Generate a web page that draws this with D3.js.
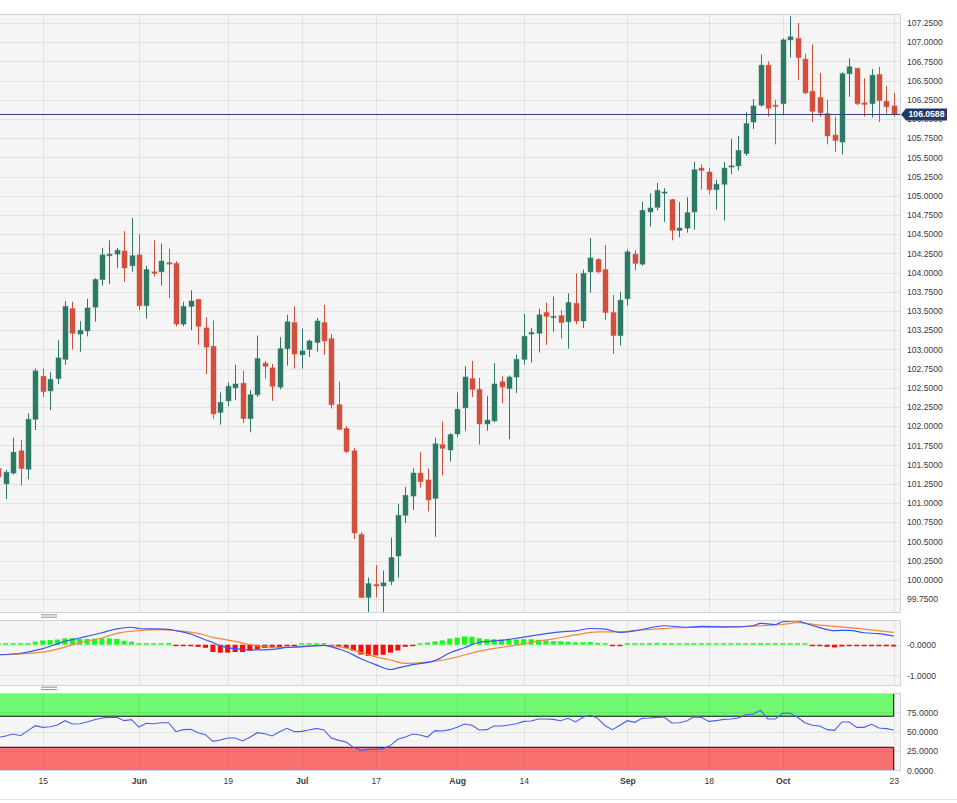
<!DOCTYPE html>
<html>
<head>
<meta charset="utf-8">
<title>Daily candles with MACD and RSI</title>
<script src="https://d3js.org/d3.v7.min.js"></script>
<style>
  body { margin: 0; background: #fff; }
  svg { display: block; font-family: "Liberation Sans", Arial, sans-serif; }
  .axis path, .axis line { display: none; }
  .axis text { fill: #3a3a3a; font-size: 8.6px; }
  .grid path { display: none; }
  .grid line { stroke: #000; stroke-opacity: 0.07; shape-rendering: crispEdges; }
  .panel-bg { fill: #f5f5f5; }
  .panel-frame { fill: none; stroke: #cdd3e5; shape-rendering: crispEdges; }
</style>
</head>
<body>
<svg width="957" height="803"></svg>
<script>
// ---- data ----
const dates = [
  "2023-05-05",
  "2023-05-08","2023-05-09","2023-05-10","2023-05-11","2023-05-12",
  "2023-05-15","2023-05-16","2023-05-17","2023-05-18","2023-05-19",
  "2023-05-22","2023-05-23","2023-05-24","2023-05-25","2023-05-26",
  "2023-05-29","2023-05-30","2023-05-31","2023-06-01","2023-06-02",
  "2023-06-05","2023-06-06","2023-06-07","2023-06-08","2023-06-09",
  "2023-06-12","2023-06-13","2023-06-14","2023-06-15","2023-06-16",
  "2023-06-19","2023-06-20","2023-06-21","2023-06-22","2023-06-23",
  "2023-06-26","2023-06-27","2023-06-28","2023-06-29","2023-06-30",
  "2023-07-03","2023-07-04","2023-07-05","2023-07-06","2023-07-07",
  "2023-07-10","2023-07-11","2023-07-12","2023-07-13","2023-07-14",
  "2023-07-17","2023-07-18","2023-07-19","2023-07-20","2023-07-21",
  "2023-07-24","2023-07-25","2023-07-26","2023-07-27","2023-07-28",
  "2023-07-31","2023-08-01","2023-08-02","2023-08-03","2023-08-04",
  "2023-08-07","2023-08-08","2023-08-09","2023-08-10","2023-08-11",
  "2023-08-14","2023-08-15","2023-08-16","2023-08-17","2023-08-18",
  "2023-08-21","2023-08-22","2023-08-23","2023-08-24","2023-08-25",
  "2023-08-28","2023-08-29","2023-08-30","2023-08-31","2023-09-01",
  "2023-09-04","2023-09-05","2023-09-06","2023-09-07","2023-09-08",
  "2023-09-11","2023-09-12","2023-09-13","2023-09-14","2023-09-15",
  "2023-09-18","2023-09-19","2023-09-20","2023-09-21","2023-09-22",
  "2023-09-25","2023-09-26","2023-09-27","2023-09-28","2023-09-29",
  "2023-10-02","2023-10-03","2023-10-04","2023-10-05","2023-10-06",
  "2023-10-09","2023-10-10","2023-10-11","2023-10-12","2023-10-13",
  "2023-10-16","2023-10-17","2023-10-18","2023-10-19","2023-10-20",
  "2023-10-23"
];

const open = [
  101.45,
  101.25,101.39,101.68,101.44,102.09,
  102.65,102.46,102.62,102.87,103.53,
  103.20,103.24,103.55,103.91,104.22,
  104.24,104.28,104.09,104.23,103.57,
  104.01,104.01,104.13,104.12,103.33,
  103.56,103.65,103.28,103.04,102.18,
  102.33,102.50,102.56,102.10,102.41,
  102.82,102.76,102.51,103.01,103.35,
  102.93,103.00,103.09,103.35,103.14,
  102.28,101.97,101.68,100.59,99.77,
  99.94,99.92,99.98,100.31,100.84,
  101.09,101.39,101.30,101.06,101.76,
  101.69,101.90,102.24,102.62,102.48,
  102.03,102.07,102.58,102.49,102.64,
  102.87,103.20,103.21,103.48,103.42,
  103.44,103.36,103.60,103.37,104.01,
  104.17,104.04,103.48,103.18,103.66,
  104.24,104.11,104.79,104.85,105.04,
  104.95,104.55,104.58,104.79,105.36,
  105.31,105.08,105.15,105.38,105.39,
  105.55,105.96,106.18,106.70,106.18,
  106.20,107.03,107.05,106.78,106.36,
  106.28,106.07,105.79,105.70,106.59,
  106.66,106.21,106.20,106.58,106.23,
  106.17
];
const high = [
  101.52,
  101.43,101.85,101.82,102.17,102.75,
  102.75,102.70,103.12,103.63,103.62,
  103.37,103.66,103.93,104.32,104.42,
  104.32,104.54,104.71,104.50,104.09,
  104.42,104.38,104.31,104.15,103.62,
  103.77,103.66,103.42,103.38,102.44,
  102.57,102.80,102.72,102.47,103.18,
  102.85,102.81,103.16,103.45,103.56,
  103.27,103.13,103.41,103.58,103.20,
  102.58,102.00,101.72,100.62,100.03,
  100.19,100.12,100.55,100.99,101.21,
  101.45,101.66,101.45,101.85,102.06,
  101.91,102.44,102.78,102.85,102.63,
  102.39,102.82,102.65,102.66,102.93,
  103.46,103.28,103.53,103.61,103.69,
  103.51,103.73,103.99,104.04,104.45,
  104.19,104.36,103.71,103.75,104.30,
  104.29,104.92,105.03,105.17,105.10,
  104.96,104.92,104.98,105.44,105.41,
  105.36,105.21,105.44,105.74,105.78,
  106.09,106.26,106.84,106.75,106.25,
  107.05,107.34,107.25,106.85,106.97,
  106.60,106.25,106.03,106.61,106.79,
  106.67,106.53,106.65,106.68,106.43,
  106.34
];
const low = [
  101.30,
  101.05,101.37,101.23,101.31,101.95,
  102.38,102.21,102.55,102.80,103.00,
  102.97,103.17,103.36,103.83,103.85,
  104.06,103.88,104.01,103.51,103.40,
  103.95,103.83,103.67,103.30,103.30,
  103.25,103.06,102.68,102.10,102.02,
  102.26,102.34,102.04,101.92,102.38,
  102.62,102.33,102.48,102.79,102.75,
  102.75,102.90,102.97,102.93,102.23,
  101.95,101.65,100.53,99.76,99.58,
  99.77,99.58,99.93,100.03,100.74,
  100.91,101.20,100.89,100.56,101.36,
  101.54,101.86,101.94,102.38,101.76,
  101.94,102.05,102.30,101.83,102.43,
  102.80,102.83,102.96,103.06,103.23,
  103.14,103.01,103.33,103.28,103.74,
  103.99,103.38,102.94,103.05,103.57,
  104.03,104.09,104.60,104.81,104.66,
  104.42,104.46,104.52,104.56,105.08,
  105.02,104.82,104.68,105.28,105.33,
  105.52,105.87,106.16,106.03,105.67,
  106.05,106.80,106.51,106.32,105.96,
  106.03,105.67,105.57,105.54,106.29,
  106.18,106.03,106.02,105.96,106.07,
  106.03
];
const close = [
  101.34,
  101.40,101.66,101.45,102.09,102.72,
  102.45,102.61,102.89,103.56,103.21,
  103.25,103.54,103.91,104.23,104.24,
  104.29,104.06,104.22,103.57,104.04,
  103.99,104.15,104.11,103.33,103.56,
  103.63,103.30,103.03,102.16,102.31,
  102.52,102.55,102.10,102.41,102.88,
  102.78,102.52,103.01,103.36,102.94,
  102.98,103.11,103.37,103.11,102.28,
  101.96,101.67,100.61,99.77,99.95,
  99.92,99.96,100.29,100.84,101.10,
  101.39,101.28,101.04,101.77,101.71,
  101.89,102.22,102.64,102.48,102.03,
  102.08,102.55,102.51,102.64,102.87,
  103.17,103.22,103.45,103.43,103.43,
  103.35,103.61,103.37,103.99,104.19,
  104.01,103.48,103.18,103.64,104.27,
  104.12,104.81,104.84,105.07,105.05,
  104.55,104.58,104.78,105.34,105.33,
  105.08,105.15,105.36,105.39,105.59,
  105.94,106.17,106.70,106.14,106.17,
  107.03,107.07,106.80,106.34,106.10,
  106.08,105.78,105.72,106.59,106.68,
  106.20,106.19,106.57,106.24,106.16,
  106.0588
];

// MACD histogram, one bar per day
const macdHist = [
  0.02,
  0.02,0.02,0.03,0.05,0.10,
  0.14,0.15,0.17,0.21,0.21,
  0.19,0.19,0.20,0.21,0.21,
  0.19,0.13,0.10,0.05,0.03,
  0.02,0.01,0.01,-0.03,-0.04,
  -0.05,-0.07,-0.10,-0.24,-0.26,
  -0.26,-0.24,-0.24,-0.20,-0.14,
  -0.11,-0.10,-0.08,-0.05,-0.02,
  0.02,0.03,0.04,0.03,-0.01,
  -0.06,-0.11,-0.20,-0.32,-0.37,
  -0.35,-0.33,-0.26,-0.19,-0.07,
  -0.01,0.03,0.07,0.11,0.14,
  0.20,0.23,0.27,0.26,0.21,
  0.18,0.18,0.17,0.16,0.17,
  0.18,0.18,0.16,0.14,0.12,
  0.11,0.10,0.08,0.08,0.09,
  0.06,0.02,-0.01,-0.02,0.01,
  0.01,0.04,0.05,0.06,0.05,
  0.02,0.01,0.02,0.02,0.02,
  0.01,0.01,0.01,0.01,0.01,
  0.01,0.02,0.05,0.03,0.02,
  0.04,0.05,0.04,0.01,-0.02,
  -0.04,-0.07,-0.09,-0.06,-0.05,
  -0.05,-0.05,-0.05,-0.05,-0.05,
  -0.06
];

// MACD and signal lines, read at sample days
const macdDates = [
  "2023-05-05","2023-05-10","2023-05-15","2023-05-18","2023-05-22","2023-05-25",
  "2023-05-29","2023-05-31","2023-06-01","2023-06-07","2023-06-08","2023-06-12",
  "2023-06-13","2023-06-15","2023-06-16","2023-06-20","2023-06-22","2023-06-27",
  "2023-06-29","2023-07-03","2023-07-06","2023-07-07","2023-07-11","2023-07-13",
  "2023-07-17","2023-07-19","2023-07-20","2023-07-24","2023-07-27","2023-07-31",
  "2023-08-02","2023-08-04","2023-08-09","2023-08-14","2023-08-17","2023-08-21",
  "2023-08-23","2023-08-25","2023-08-29","2023-08-31","2023-09-04","2023-09-08",
  "2023-09-13","2023-09-15","2023-09-21","2023-09-26","2023-09-27","2023-09-29",
  "2023-10-02","2023-10-04","2023-10-05","2023-10-09","2023-10-11","2023-10-13",
  "2023-10-17","2023-10-19","2023-10-23"
];
const macdValues = [
  -0.33,-0.28,-0.13,0.11,0.22,0.39,
  0.52,0.57,0.53,0.50,0.46,0.35,
  0.25,0.07,-0.04,-0.13,-0.17,-0.15,
  -0.09,-0.06,-0.02,-0.07,-0.22,-0.46,
  -0.65,-0.81,-0.76,-0.65,-0.52,-0.27,
  -0.10,0.08,0.14,0.25,0.36,0.42,
  0.45,0.53,0.51,0.40,0.45,0.62,
  0.57,0.60,0.58,0.62,0.70,0.66,
  0.75,0.78,0.70,0.56,0.46,0.47,
  0.39,0.36,0.28
];
const signalDates = [
  "2023-05-05","2023-05-15","2023-05-18","2023-05-22","2023-05-25","2023-05-29",
  "2023-06-01","2023-06-06","2023-06-08","2023-06-13","2023-06-15","2023-06-20",
  "2023-06-22","2023-06-26","2023-06-29","2023-07-03","2023-07-06","2023-07-11",
  "2023-07-14","2023-07-19","2023-07-21","2023-07-26","2023-07-31","2023-08-04",
  "2023-08-11","2023-08-15","2023-08-18","2023-08-23","2023-08-28","2023-08-31",
  "2023-09-04","2023-09-08","2023-09-15","2023-09-21","2023-09-27","2023-10-02",
  "2023-10-04","2023-10-09","2023-10-13","2023-10-23"
];
const signalValues = [
  -0.33,-0.24,-0.08,0.07,0.22,0.37,
  0.46,0.49,0.46,0.37,0.24,0.11,
  0.00,-0.06,-0.09,-0.07,-0.02,-0.11,
  -0.33,-0.50,-0.61,-0.57,-0.46,-0.21,
  -0.01,0.08,0.19,0.32,0.42,0.42,
  0.47,0.53,0.57,0.58,0.62,0.66,
  0.72,0.64,0.56,0.40
];

// RSI, one value per day
const rsi = [
  42.8,
  44.5,47.1,44.9,51.4,57.8,
  55.7,56.5,58.7,64.3,60.0,
  60.4,62.5,65.5,67.7,68.6,
  68.6,64.3,65.6,56.1,60.9,
  60.4,61.7,61.7,50.1,52.7,
  53.1,48.8,46.2,37.6,39.4,
  41.9,41.9,38.1,42.8,48.8,
  47.5,44.5,50.1,54.4,50.1,
  50.5,52.3,54.4,52.3,41.9,
  38.9,36.8,29.9,25.6,27.3,
  27.3,28.2,32.5,40.2,43.2,
  47.1,45.8,43.2,51.4,51.0,
  52.7,55.7,60.0,58.3,52.3,
  52.7,57.4,57.4,58.7,60.4,
  63.4,63.9,66.5,66.5,66.0,
  64.3,67.3,62.6,68.6,71.2,
  67.3,57.8,52.7,58.3,64.3,
  62.2,67.3,67.7,68.6,69.0,
  61.3,61.7,63.9,69.0,68.6,
  63.4,64.3,66.0,66.5,67.7,
  72.0,72.9,77.6,66.5,66.5,
  73.8,73.8,68.6,61.7,58.3,
  57.4,52.7,51.8,62.6,62.6,
  55.7,55.7,59.6,54.8,54.0,
  52.3
];

// axis ticks
const xTickDates = ["2023-05-15","2023-06-01","2023-06-19","2023-07-03","2023-07-17",
  "2023-08-01","2023-08-14","2023-09-01","2023-09-18","2023-10-02","2023-10-23"];
const xTickLabels = ["15","Jun","19","Jul","17","Aug","14","Sep","18","Oct","23"];
const priceTicks = d3.range(0, 31).map(i => 99.75 + i * 0.25);
const macdTicks = [0, -1];
const rsiTicks = [0, 25, 50, 75];
const rsiUpper = 70, rsiLower = 30;

// ---- layout ----
const svg = d3.select("svg");
const W = 900;
const main = {top: 14, bottom: 612};
const macdP = {top: 620, bottom: 685};
const rsiP = {top: 693, bottom: 770.5};

const x = d3.scalePoint().domain(dates).range([-1.7, 893.7]);
const yMain = d3.scaleLinear().domain([99.75, 107.25]).range([599, 23]);
const yMacd = d3.scaleLinear().domain([-1, 0]).range([675.3, 644.7]);
const yRsi = d3.scaleLinear().domain([0, 100]).range([770.5, 693]);

const green = "#2c7a65", red = "#d34f3d";

function panel(name, p, y, ticks, fmt) {
  svg.append("rect").attr("class", "panel-bg")
    .attr("x", 0).attr("y", p.top).attr("width", W).attr("height", p.bottom - p.top);
  svg.append("clipPath").attr("id", "clip-" + name)
    .append("rect").attr("x", 0).attr("y", p.top).attr("width", W).attr("height", p.bottom - p.top);
  svg.append("g").attr("class", "axis")
    .attr("transform", `translate(${W},0)`)
    .call(d3.axisRight(y).tickValues(ticks).tickSize(0).tickPadding(7).tickFormat(fmt));
  return svg.append("g").attr("clip-path", `url(#clip-${name})`);
}

function grid(g, p, y, ticks) {
  g.append("g").attr("class", "grid")
    .attr("transform", `translate(${W},0)`)
    .call(d3.axisLeft(y).tickValues(ticks).tickSize(W).tickFormat(""));
  g.append("g").attr("class", "grid")
    .attr("transform", `translate(0,${p.top})`)
    .call(d3.axisBottom(x).tickValues(xTickDates).tickSize(p.bottom - p.top).tickFormat(""));
}

function frame(p) {
  svg.append("rect").attr("class", "panel-frame")
    .attr("x", -1).attr("y", p.top).attr("width", W + 1).attr("height", p.bottom - p.top);
}

function handle(yy) {
  [0, 2.4].forEach(o => svg.append("line")
    .attr("x1", 41).attr("x2", 57).attr("y1", yy + o).attr("y2", yy + o)
    .attr("stroke", "#9a9a9a").attr("stroke-width", 1.1));
}

// ---- main candle panel ----
const gMain = panel("main", main, yMain, priceTicks, d => d.toFixed(4));
grid(gMain, main, yMain, priceTicks);

const candles = dates.map((d, i) => ({date: d, o: open[i], h: high[i], l: low[i], c: close[i]}));
const cg = gMain.selectAll(".candle").data(candles).enter().append("g").attr("class", "candle");
cg.append("line")
  .attr("x1", d => Math.round(x(d.date)) + 0.5).attr("x2", d => Math.round(x(d.date)) + 0.5)
  .attr("y1", d => yMain(d.h)).attr("y2", d => yMain(d.l))
  .attr("stroke", d => d.c >= d.o ? green : red).attr("stroke-width", 1);
cg.append("rect")
  .attr("x", d => Math.round(x(d.date)) - 2)
  .attr("width", 5)
  .attr("y", d => yMain(Math.max(d.o, d.c)))
  .attr("height", d => Math.max(1.2, Math.abs(yMain(d.o) - yMain(d.c))))
  .attr("fill", d => d.c >= d.o ? green : red)
  .attr("stroke", d => d.c >= d.o ? green : red)
  .attr("stroke-opacity", 0.45).attr("stroke-width", 1);

const last = close[close.length - 1];
const yLast = yMain(last);
gMain.append("line")
  .attr("x1", 0).attr("x2", W).attr("y1", yLast).attr("y2", yLast)
  .attr("stroke", "#2b4272").attr("stroke-width", 1.2);
frame(main);

// current price tag
svg.append("path")
  .attr("d", `M${W + 1},${yLast} L${W + 6},${yLast - 6} L${W + 47},${yLast - 6} L${W + 47},${yLast + 6} L${W + 6},${yLast + 6} Z`)
  .attr("fill", "#203a69");
svg.append("text")
  .attr("x", W + 26.5).attr("y", yLast).attr("dy", "0.35em")
  .attr("text-anchor", "middle").attr("fill", "#fff")
  .style("font-size", "8.6px").style("font-weight", "bold")
  .text(last.toFixed(4));

// ---- MACD panel ----
handle(614.8);
const gMacd = panel("macd", macdP, yMacd, macdTicks, d => d === 0 ? "-0.0000" : d.toFixed(4));
grid(gMacd, macdP, yMacd, macdTicks);
gMacd.selectAll(".hist").data(dates).enter().append("rect")
  .attr("x", d => x(d) - 2.5).attr("width", 5)
  .attr("y", (d, i) => macdHist[i] >= 0 ? yMacd(0) - Math.max(1.5, yMacd(0) - yMacd(macdHist[i])) : yMacd(0))
  .attr("height", (d, i) => Math.max(1.5, Math.abs(yMacd(0) - yMacd(macdHist[i]))))
  .attr("fill", (d, i) => macdHist[i] >= 0 ? "#14ff14" : "#ff0a0a");
const lineMacd = d3.line().x(d => x(d[0])).y(d => yMacd(d[1])).curve(d3.curveMonotoneX);
gMacd.append("path").datum(signalDates.map((d, i) => [d, signalValues[i]]))
  .attr("d", lineMacd).attr("fill", "none").attr("stroke", "#f5853c").attr("stroke-width", 1.2);
gMacd.append("path").datum(macdDates.map((d, i) => [d, macdValues[i]]))
  .attr("d", lineMacd).attr("fill", "none").attr("stroke", "#3b55f2").attr("stroke-width", 1.2);
frame(macdP);

// ---- RSI panel ----
handle(687.2);
const gRsi = panel("rsi", rsiP, yRsi, rsiTicks, d => d.toFixed(4));
const xEnd = x(dates[dates.length - 1]);
gRsi.append("rect").attr("x", 0).attr("width", xEnd)
  .attr("y", yRsi(100)).attr("height", yRsi(rsiUpper) - yRsi(100)).attr("fill", "#70f870");
gRsi.append("rect").attr("x", 0).attr("width", xEnd)
  .attr("y", yRsi(rsiLower)).attr("height", yRsi(0) - yRsi(rsiLower)).attr("fill", "#f87070");
grid(gRsi, rsiP, yRsi, rsiTicks);
[[rsiUpper, 100], [0, rsiLower]].forEach(([a, b]) => {
  gRsi.append("line").attr("x1", xEnd).attr("x2", xEnd)
    .attr("y1", yRsi(a)).attr("y2", yRsi(b)).attr("stroke", "#111").attr("stroke-width", 1);
});
[rsiUpper, rsiLower].forEach(v => {
  gRsi.append("line").attr("x1", 0).attr("x2", xEnd)
    .attr("y1", yRsi(v)).attr("y2", yRsi(v)).attr("stroke", "#111").attr("stroke-width", 1);
});
gRsi.append("path").datum(dates.map((d, i) => [d, rsi[i]]))
  .attr("d", d3.line().x(d => x(d[0])).y(d => yRsi(d[1])))
  .attr("fill", "none").attr("stroke", "#4a5ff0").attr("stroke-width", 1.1);
frame(rsiP);

// ---- date axis ----
svg.append("g").attr("class", "axis")
  .attr("transform", "translate(0,778)")
  .call(d3.axisBottom(x).tickValues(xTickDates).tickSize(0).tickPadding(0)
    .tickFormat((d, i) => xTickLabels[i]))
  .selectAll("text")
  .style("font-weight", (d, i) => isNaN(+xTickLabels[i]) ? "bold" : "normal");

svg.append("line").attr("x1", 0).attr("x2", 957).attr("y1", 799.5).attr("y2", 799.5)
  .attr("stroke", "#e2e2e2");
</script>
</body>
</html>
